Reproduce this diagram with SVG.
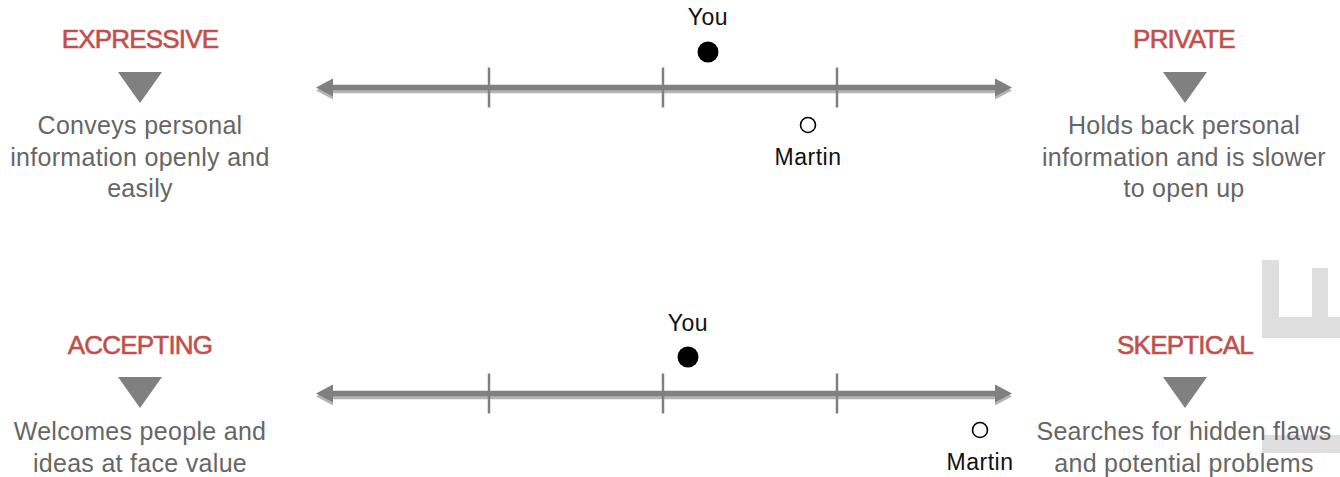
<svg xmlns="http://www.w3.org/2000/svg" width="1340" height="477" viewBox="0 0 1340 477">
<style>
.lbl{font-family:"Liberation Sans",Arial,sans-serif;font-size:26px;fill:#c0504d;stroke:#c0504d;stroke-width:0.6px;text-anchor:middle;letter-spacing:-0.8px}
.desc{font-family:"Liberation Sans",Arial,sans-serif;font-size:25px;fill:#666;text-anchor:middle;letter-spacing:0.3px}
.pt{font-family:"Liberation Sans",Arial,sans-serif;font-size:23px;fill:#111;text-anchor:middle;letter-spacing:0.5px}
.tri{fill:#808080}
.tick{stroke:#808080;stroke-width:2.5}
.deco{fill:#dedede}
</style>
<defs>
<g id="axisShape">
<rect x="328" y="-2.75" width="672" height="5.5"/>
<polygon points="316,0 333,-9 333,9"/>
<polygon points="1012,0 995,-9 995,9"/>
</g>
<g id="axis">
<use href="#axisShape" y="3" fill="#b4b4b4"/>
<use href="#axisShape" fill="#808080"/>
<line class="tick" x1="489" y1="-20" x2="489" y2="20"/>
<line class="tick" x1="663" y1="-20" x2="663" y2="20"/>
<line class="tick" x1="837" y1="-20" x2="837" y2="20"/>
</g>
</defs>
<g id="decoration">
<rect class="deco" x="1262" y="260" width="17" height="78"/>
<rect class="deco" x="1262" y="317" width="78" height="21"/>
<rect class="deco" x="1312" y="268" width="16" height="49"/>
<rect class="deco" x="1262" y="435" width="78" height="18"/>
</g>
<g id="connectors">
<use href="#axis" y="87.5"/>
<use href="#axis" y="393.5"/>
</g>
<g id="expressive">
<text class="lbl" x="140" y="48">EXPRESSIVE</text>
<polygon class="tri" points="118,72 162,72 140,103"/>
<text class="desc" x="140" y="134">Conveys personal</text>
<text class="desc" x="140" y="166">information openly and</text>
<text class="desc" x="140" y="197">easily</text>
</g>
<g id="private">
<text class="lbl" x="1184" y="48">PRIVATE</text>
<polygon class="tri" points="1163,72 1207,72 1185,103"/>
<text class="desc" x="1184" y="134">Holds back personal</text>
<text class="desc" x="1184" y="166">information and is slower</text>
<text class="desc" x="1184" y="197">to open up</text>
</g>
<g id="accepting">
<text class="lbl" x="140" y="354">ACCEPTING</text>
<polygon class="tri" points="118,377 162,377 140,408"/>
<text class="desc" x="140" y="440">Welcomes people and</text>
<text class="desc" x="140" y="472">ideas at face value</text>
</g>
<g id="skeptical">
<text class="lbl" x="1185" y="354">SKEPTICAL</text>
<polygon class="tri" points="1163,377 1207,377 1185,408"/>
<text class="desc" x="1184" y="440">Searches for hidden flaws</text>
<text class="desc" x="1184" y="472">and potential problems</text>
</g>
<g id="you1">
<text class="pt" x="708" y="25">You</text>
<circle cx="708" cy="52" r="10.5" fill="#000"/>
</g>
<g id="martin1">
<circle cx="808" cy="125" r="7.5" fill="#fff" stroke="#000" stroke-width="1.6"/>
<text class="pt" x="808" y="165">Martin</text>
</g>
<g id="you2">
<text class="pt" x="688" y="331">You</text>
<circle cx="688" cy="357" r="10.5" fill="#000"/>
</g>
<g id="martin2">
<circle cx="980" cy="430" r="7.5" fill="#fff" stroke="#000" stroke-width="1.6"/>
<text class="pt" x="980" y="470">Martin</text>
</g>
</svg>
